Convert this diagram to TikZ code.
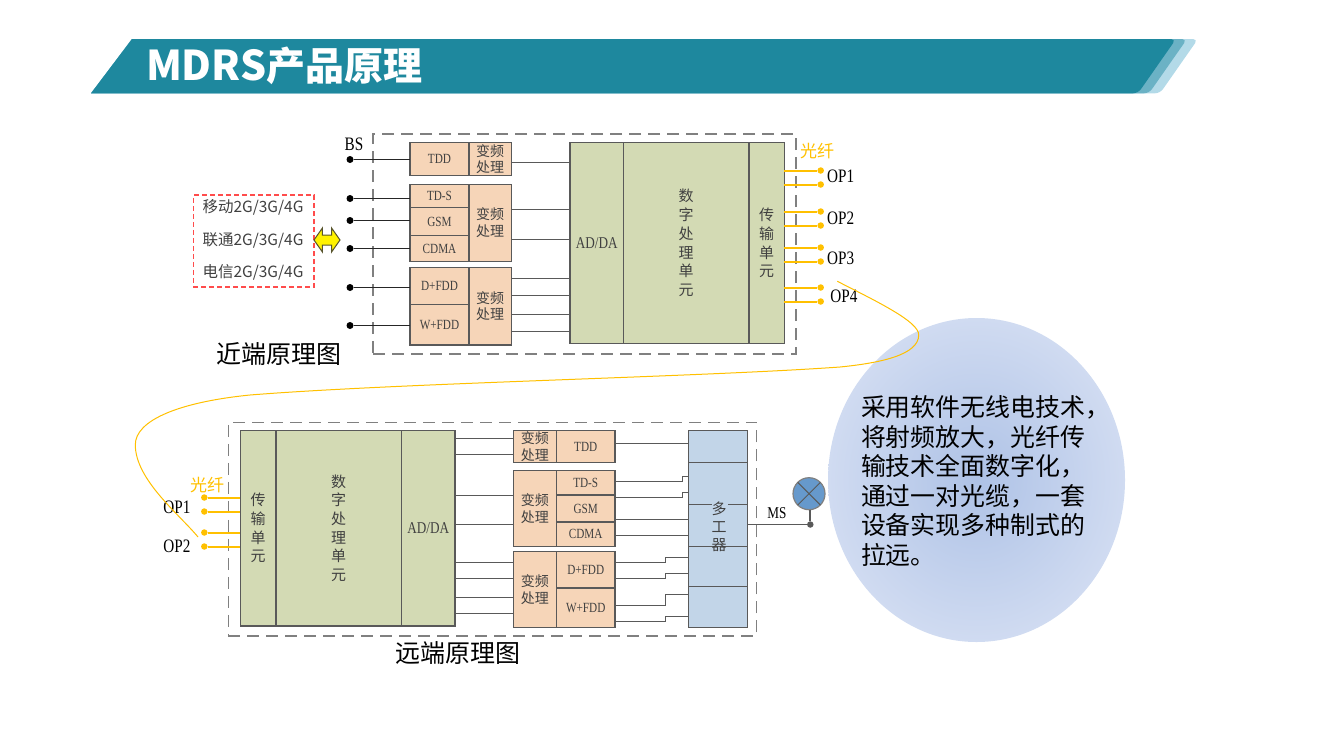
\documentclass[tikz,border=0pt]{standalone}
\usepackage{fontspec}
\usepackage{xcolor}
\usetikzlibrary{shapes.geometric}
\usetikzlibrary{shapes.arrows}
\newfontfamily\cjk{Noto Sans CJK SC}
\newfontfamily\latn[FakeStretch=0.8]{Liberation Serif}
\definecolor{bandDark}{HTML}{1E889E}
\definecolor{bandMid}{HTML}{6BB2C5}
\definecolor{bandPale}{HTML}{B3DAE8}
\definecolor{rfFill}{HTML}{F6D5B8}
\definecolor{dspFill}{HTML}{D3DAB4}
\definecolor{muxFill}{HTML}{C2D5E8}
\definecolor{fibre}{HTML}{FFC000}
\definecolor{wireGray}{HTML}{595959}
\definecolor{noteInner}{HTML}{AEC2E6}
\definecolor{noteOuter}{HTML}{D0DBF1}
\definecolor{antennaFill}{HTML}{6699CC}

\begin{document}
\begin{tikzpicture}[
  x=1pt,y=-1pt,
  every node/.style={inner sep=0pt,outer sep=0pt,text=black!75},
  frame/.style={draw=black!50,line width=1.5pt,dash pattern=on 12pt off 7pt},
  part/.style={draw=wireGray,line width=1.4pt,align=center},
  rfpart/.style={part,fill=rfFill,font=\latn\fontsize{14}{16}\selectfont},
  vfpart/.style={part,fill=rfFill,font=\cjk\fontsize{14}{16.5}\selectfont},
  dsppart/.style={part,fill=dspFill,font=\cjk\fontsize{15}{18.7}\selectfont},
  adpart/.style={part,fill=dspFill,font=\latn\fontsize{16.5}{18}\selectfont},
  wire/.style={draw=wireGray,line width=1.5pt},
  feed/.style={draw=black!85,line width=1.7pt},
  fibreline/.style={draw=fibre,line width=2pt},
  bsdot/.style={circle,fill=black,minimum size=7pt},
  opdot/.style={circle,fill=fibre,minimum size=6.5pt},
  oplabel/.style={text=black,font=\latn\fontsize{19}{20}\selectfont},
  fibretext/.style={text=fibre,font=\cjk\fontsize{17}{18}\selectfont},
  captiontext/.style={text=black,font=\cjk\fontsize{25}{28}\selectfont},
  optext/.style={font=\cjk\fontsize{15.5}{17}\selectfont},
]
\useasboundingbox (0,0) rectangle (1321,744);

% title band
\fill [bandPale] (132,39) [rounded corners=5pt] -- (1198,39) -- (1160,93.3) [sharp corners] -- (91,93.3) -- cycle;
\fill [bandMid] (132,39) [rounded corners=5pt] -- (1187,39) -- (1149,93.3) [sharp corners] -- (91,93.3) -- cycle;
\fill [bandDark] (132,39) [rounded corners=5pt] -- (1176,39) -- (1138,93.3) [sharp corners] -- (91,93.3) -- cycle;
\node (title) [anchor=west,text=white,font=\cjk\bfseries\fontsize{39}{42}\selectfont] at (146,66) {{\fontsize{41}{42}\selectfont MDRS}产品原理};

% round note
\node (noteShape) [ellipse,minimum width=297pt,minimum height=324pt,shade,shading=radial,inner color=noteInner,outer color=noteOuter] at (976.5,480) {};
\node (noteText) [anchor=west,align=left,text=black,font=\cjk\fontsize{24.9}{29.6}\selectfont] at (861,481) {采用软件无线电技术，\\将射频放大，光纤传\\输技术全面数字化，\\通过一对光缆，一套\\设备实现多种制式的\\拉远。};

% near end
\node (nearFrame) [frame,minimum width=423pt,minimum height=220pt] at (584.5,244) {};
\node (nTdd) [rfpart,minimum width=59pt,minimum height=32.6pt] at (439.5,159) {TDD};
\node (nVf1) [vfpart,minimum width=42.5pt,minimum height=32.6pt] at (490.2,159) {变频\\处理};
\node (nTds) [rfpart,minimum width=59pt,minimum height=23.4pt] at (439.5,196) {TD-S};
\node (nGsm) [rfpart,minimum width=59pt,minimum height=28pt] at (439.5,221.7) {GSM};
\node (nCdma) [rfpart,minimum width=59pt,minimum height=25.6pt] at (439.5,248.5) {CDMA};
\node (nVf2) [vfpart,minimum width=42.5pt,minimum height=77pt] at (490.2,222.8) {变频\\处理};
\node (nDfdd) [rfpart,minimum width=59pt,minimum height=37.4pt] at (439.5,286) {D+FDD};
\node (nWfdd) [rfpart,minimum width=59pt,minimum height=40.3pt] at (439.5,324.8) {W+FDD};
\node (nVf3) [vfpart,minimum width=42.5pt,minimum height=77.7pt] at (490.2,306.2) {变频\\处理};
\node (nAd) [adpart,minimum width=53.3pt,minimum height=200.6pt] at (596.7,243) {AD/DA};
\node (nDsp) [dsppart,minimum width=125.7pt,minimum height=200.6pt] at (686.2,243) {数\\字\\处\\理\\单\\元};
\node (nTx) [dsppart,minimum width=35.3pt,minimum height=200.6pt] at (766.7,243) {传\\输\\单\\元};

\node (bsText) [oplabel] at (354,144) {BS};
\foreach \i/\y/\dest in {1/159.5/nTdd,2/198.5/nTds,3/220.5/nGsm,4/248.5/nCdma,5/287.5/nDfdd,6/325.5/nWfdd} {
  \node (nBs\i) [bsdot] at (350,\y) {};
  \draw [feed] (nBs\i) -- (nBs\i -| \dest.west);
}
\foreach \y/\src in {162.5/nVf1,209.5/nVf2,239.5/nVf2,278.5/nVf3,295.5/nVf3,314.5/nVf3,331.5/nVf3}
  \draw [wire] (\src.east |- 0,\y) -- (nAd.west |- 0,\y);
\foreach \y [count=\i] in {170.5,184.5,211.5,225.5,247.5,261.5,287.5,301.5} {
  \node (nOp\i) [opdot] at (820.7,\y) {};
  \draw [fibreline] (nOp\i) -- (nOp\i -| nTx.east);
}
\node (nFibreText) [fibretext] at (817,151) {光纤};
\node (nOp1Text) [oplabel] at (840.7,176.7) {OP1};
\node (nOp2Text) [oplabel] at (840.7,218.5) {OP2};
\node (nOp3Text) [oplabel] at (840.7,258.5) {OP3};
\node (nOp4Text) [oplabel] at (844,296) {OP4};

% operators
\node (opBox) [draw=red!70,line width=1.7pt,dash pattern=on 5pt off 3pt,minimum width=120.7pt,minimum height=92pt] at (253.7,241.3) {};
\node (opMobile) [optext] at (253,207) {移动2G/3G/4G};
\node (opUnicom) [optext] at (253,240) {联通2G/3G/4G};
\node (opTelecom) [optext] at (253,272.5) {电信2G/3G/4G};
\node (opArrow) [double arrow,draw=black!50!olive,fill=yellow,line width=1pt,inner ysep=4.5pt,minimum height=26pt,minimum width=23pt,double arrow head extend=7pt,double arrow tip angle=110] at (327,240) {};
\node (nearCaption) [captiontext] at (279,354) {近端原理图};

% far end
\node (farFrame) [frame,minimum width=528.4pt,minimum height=213.7pt] at (492.5,529.2) {};
\node (fTx) [dsppart,minimum width=35.7pt,minimum height=195.7pt] at (258.2,528.2) {传\\输\\单\\元};
\node (fDsp) [dsppart,minimum width=125.3pt,minimum height=195.7pt] at (338.7,528.2) {数\\字\\处\\理\\单\\元};
\node (fAd) [adpart,minimum width=53.7pt,minimum height=195.7pt] at (428.2,528.2) {AD/DA};
\node (fVf1) [vfpart,minimum width=43pt,minimum height=32.4pt] at (534.8,446.5) {变频\\处理};
\node (fTdd) [rfpart,minimum width=58.7pt,minimum height=32.4pt] at (585.7,446.5) {TDD};
\node (fVf2) [vfpart,minimum width=43pt,minimum height=75.6pt] at (534.8,508.5) {变频\\处理};
\node (fTds) [rfpart,minimum width=58.7pt,minimum height=24.3pt] at (585.7,482.8) {TD-S};
\node (fGsm) [rfpart,minimum width=58.7pt,minimum height=27pt] at (585.7,508.5) {GSM};
\node (fCdma) [rfpart,minimum width=58.7pt,minimum height=24.3pt] at (585.7,534.2) {CDMA};
\node (fVf3) [vfpart,minimum width=43pt,minimum height=75.6pt] at (534.8,589.5) {变频\\处理};
\node (fDfdd) [rfpart,minimum width=58.7pt,minimum height=36.3pt] at (585.7,569.8) {D+FDD};
\node (fWfdd) [rfpart,minimum width=58.7pt,minimum height=39.3pt] at (585.7,607.6) {W+FDD};
\node (fMux) [part,fill=muxFill,minimum width=59pt,minimum height=197pt] at (717.8,528.8) {};
\foreach \y in {462.5,586.5}
  \draw [wire] (fMux.west |- 0,\y) -- (fMux.east |- 0,\y);
\draw [wire] (fMux.west |- 0,504.5) -- ++(24,0);
\draw [wire] (fMux.east |- 0,504.5) -- ++(-19,0);
\draw [wire] (fMux.west |- 0,546.5) -- (fMux.east |- 0,546.5);
\node (fMuxText) [align=center,font=\cjk\fontsize{15}{18}\selectfont] at (719,527) {多\\工\\器};

\foreach \y/\dest in {438.5/fVf1,454.5/fVf1,495.5/fVf2,524.5/fVf2,562.5/fVf3,578.5/fVf3,597.5/fVf3,613.5/fVf3}
  \draw [wire] (fAd.east |- 0,\y) -- (\dest.west |- 0,\y);
\draw [wire] (fTdd.east |- 0,443.5) -- (fMux.west |- 0,443.5);
\draw [wire] (fGsm.east |- 0,519.5) -- (fMux.west |- 0,519.5);
\draw [wire] (fCdma.east |- 0,535.5) -- (fMux.west |- 0,535.5);
% stepped lines into the multiplexer
\foreach \src/\y/\xb/\yb in {fTds/481.5/682.5/476.5,fTds/497.5/682.5/492.5,fDfdd/562.5/665.5/557.5,fDfdd/578.5/665.5/573.5,fWfdd/605.5/665.5/594.5,fWfdd/621.5/665.5/616.5}
  \draw [wire] (\src.east |- 0,\y) -| (\xb,\yb) -- (fMux.west |- 0,\yb);

\foreach \y [count=\i] in {497.5,511.5,532.5,546.5} {
  \node (fOp\i) [opdot] at (204.3,\y) {};
  \draw [fibreline] (fOp\i) -- (fOp\i -| fTx.west);
}
\node (fFibreText) [fibretext] at (207,485) {光纤};
\node (fOp1Text) [oplabel] at (177,507) {OP1};
\node (fOp2Text) [oplabel] at (177,546) {OP2};

% antenna
\node (msDot) [circle,fill=wireGray,minimum size=6.5pt] at (810.3,524.5) {};
\node (antenna) [circle,draw=gray,fill=antennaFill,line width=1.2pt,minimum size=32pt] at (809,493.7) {};
\draw [draw=wireGray,line width=1pt] (antenna.45) -- (antenna.225);
\draw [draw=wireGray,line width=1pt] (antenna.135) -- (antenna.315);
\draw [feed,draw=wireGray] (antenna.south -| msDot) -- (msDot);
\draw [feed,draw=wireGray] (fMux.east |- msDot) -- (msDot);
\node (msText) [oplabel,font=\latn\fontsize{16.5}{18}\selectfont] at (777,513) {MS};
\node (farCaption) [captiontext] at (458,653) {远端原理图};

% fibre between both ends
\coordinate (fibreA) at (837.3,281.3);
\coordinate (fibreB) at (198,537);
\draw [draw=fibre,line width=1pt] (fibreA) .. controls (880,303) and (919,322) .. (918.7,335)
  .. controls (918.7,355) and (880,363) .. (840,367)
  .. controls (700,377) and (400,383) .. (250,395)
  .. controls (180,402) and (135,420) .. (135.3,445)
  .. controls (135.5,480) and (180,515) .. (fibreB);
\end{tikzpicture}
\end{document}
